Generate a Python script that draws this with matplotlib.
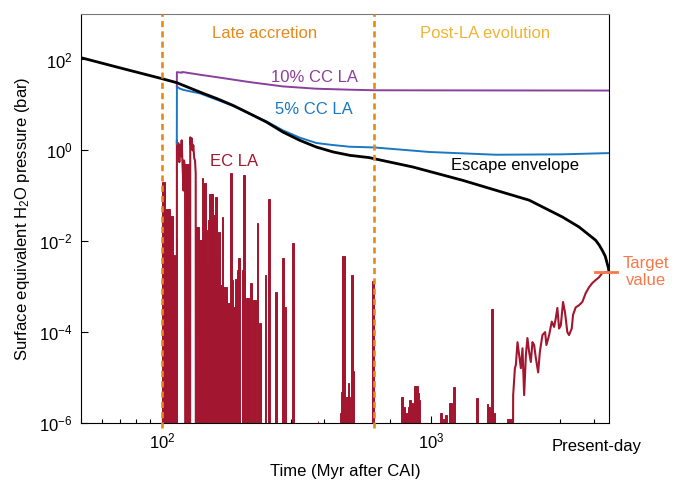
import numpy as np
import matplotlib
matplotlib.use("Agg")
import matplotlib.pyplot as plt
import matplotlib.transforms as mtransforms
from matplotlib.ticker import NullLocator, NullFormatter, FixedLocator

plt.rcParams['font.family'] = ['Liberation Sans', 'DejaVu Sans']
plt.rcParams['mathtext.fontset'] = 'custom'
plt.rcParams['mathtext.rm'] = 'Liberation Sans'
plt.rcParams['mathtext.it'] = 'Liberation Sans:italic'
plt.rcParams['mathtext.bf'] = 'Liberation Sans:bold'

# value used for "zero" pressure (sits below the axis)
FLOOR = 1e-9

# escape envelope (Myr, bar)
esc_t = [50.1, 70.7, 100, 113.4, 138.3, 160, 183.7, 211.8, 244.1, 281.1, 324.6,
         374.1, 431.9, 497.6, 588.5, 611, 853, 1306, 1737, 2307, 3064, 3533,
         4074, 4200, 4310, 4420, 4498, 4540, 4568]
esc_p = [109, 64, 37.7, 30.8, 19.1, 13.7, 9.7, 6.4, 4.19, 2.52, 1.66,
         1.18, 0.92, 0.776, 0.691, 0.657, 0.43, 0.219, 0.132, 0.080, 0.0342, 0.0206,
         0.0105, 0.0082, 0.0063, 0.0047, 0.0032, 0.0026, 0.0021]

# 5% CC late accretion
cc5_t = [113.4, 113.5, 116, 120, 125, 138.3, 183.7, 211.8, 244.1, 281.1, 324.6,
         374.1, 425, 497.6, 611, 983, 1737, 3064, 4568]
cc5_p = [1.4, 25.5, 23, 21.4, 20.3, 17.9, 9.5, 6.3, 4.34, 2.75, 1.90,
         1.45, 1.32, 1.2, 1.16, 0.92, 0.80, 0.817, 0.87]

# 10% CC late accretion
cc10_t = [113.4, 113.5, 117, 118.5, 119, 125, 140, 159.4, 211.8, 281.1, 374.1,
          497.6, 611, 1000, 2000, 4568]
cc10_p = [25.5, 52.6, 51.5, 51.0, 53.0, 50.6, 45.6, 40.8, 31.7, 25.5, 22.7,
          21.6, 21.0, 20.9, 20.8, 20.7]

# EC late accretion: dense spikes, given as (start, end, top)
ec_bar_start = [100.0, 102.6, 107.1, 109.5, 111.3, 112.4,
                121.9,
                133.5, 137.1, 140.3, 142.2, 143.1, 145.5, 146.4, 148.4, 149.3, 154.9,
                157.1, 159.4, 161.6, 164.0, 166.4, 168.7, 174.8, 178.6, 181.2, 183.7,
                186.4, 189.1, 191.7,
                198.8, 200.4, 205.7, 212.0, 218.1, 224.3, 229.5, 240.1, 247.8, 262.3,
                279.9, 285.7, 304.9,
                378.6, 456.3, 460.2, 466.9, 476.2, 483.1, 489.8, 494.0, 504.2, 511.1,
                601.5, 603.6,
                772.2, 782.9, 801.1, 817.0, 829.0, 841.1, 857.7, 865.1, 889.8, 902.8,
                1080, 1108, 1120, 1166, 1206,
                1464, 1603, 1626, 1664, 1697, 1912]
ec_bar_end = [102.6, 107.1, 109.5, 111.3, 112.4, 113.4,
              127.0,
              137.1, 140.3, 142.2, 143.1, 145.5, 146.4, 148.4, 149.3, 154.9, 157.1,
              159.4, 161.6, 164.0, 166.4, 168.7, 174.8, 178.6, 181.2, 183.7, 186.4,
              189.1, 191.7, 195.0,
              200.4, 203.5, 210.5, 216.4, 222.4, 227.4, 232.0, 243.8, 251.2, 266.0,
              283.0, 289.6, 308.3,
              380.8, 460.2, 466.9, 476.2, 483.1, 489.8, 494.0, 499.1, 511.1, 515.5,
              603.6, 614.0,
              782.9, 801.1, 817.0, 829.0, 841.1, 857.7, 865.1, 889.8, 902.8, 910.5,
              1096, 1120, 1143, 1189, 1224,
              1489, 1626, 1650, 1697, 1726, 1973]
ec_bar_top = [0.198, 0.05, 0.036, 0.005, 8.4e-4, 0.0117,
              0.5,
              0.0204, 0.0105, 0.242, 0.0105, 0.188, 0.0175, 0.0027, 0.029, 0.11, 0.037,
              0.093, 0.0038, 0.0159, 0.0011, 0.034, 9.7e-4, 4.3e-4, 0.31, 0.0014, 3.5e-4,
              0.0015, 0.0023, 0.0042,
              0.0023, 0.28, 5.6e-4, 1.2e-3, 5.0e-4, 0.025, 1.6e-4, 1.8e-3, 0.084, 7.6e-4,
              4.2e-3, 3.5e-4, 9.1e-3,
              1.1e-6, 1.7e-6, 4.8e-6, 0.0047, 1.7e-6, 3.7e-6, 7.4e-6, 3.7e-6, 0.0018, 1.4e-5,
              1.7e-5, 1.3e-3,
              3.7e-6, 2.3e-6, 1.7e-6, 2.3e-6, 3.2e-6, 2.7e-6, 2.3e-6, 6.5e-6, 4.6e-6, 3.2e-6,
              1.7e-6, 1.2e-6, 1.5e-6, 2.7e-6, 6.2e-6,
              3.5e-6, 2.6e-6, 2.3e-6, 3.2e-4, 1.7e-6, 1.2e-6]

# EC late accretion: line parts (early high humps + late rise)
ec_line_t = [113.4, 113.5, 114.1, 114.9, 115.9, 116.6, 117.6, 118.2, 119.1, 120.1,
             120.6, 121.7, 121.9,
             127.0, 127.2, 128.1, 128.9, 129.8, 130.6, 131.6, 132.5, 133.3, 133.5,
             2000, 2012, 2042, 2059, 2088, 2118, 2149, 2179, 2210, 2243,
             2273, 2307, 2340, 2373, 2407, 2442, 2491, 2527, 2584, 2644,
             2673, 2736, 2799, 2855, 2896, 2936, 2979, 3023, 3082, 3135,
             3197, 3244, 3320, 3357, 3435, 3533, 3634, 3741, 3848, 3958,
             4074, 4190, 4310, 4459, 4568]
ec_line_p = [FLOOR, 1.66, 1.0, 1.43, 0.55, 1.29, 0.74, 1.66, 0.47, 0.13,
             0.60, 0.40, FLOOR,
             FLOOR, 1.93, 1.22, 1.83, 1.0, 1.29, 0.67, 0.60, 0.31, FLOOR,
             FLOOR, 4.1e-6, 1.6e-5, 1.9e-5, 6.0e-5, 3.1e-5, 1.6e-5, 4.4e-5, 4.1e-6, 3.1e-5,
             7.4e-5, 3.6e-5, 2.2e-5, 6.0e-5, 5.2e-5, 2.7e-5, 1.3e-5, 3.6e-5, 8.6e-5, 1.0e-4,
             5.2e-5, 8.6e-5, 1.7e-4, 1.3e-4, 2.0e-4, 3.4e-4, 1.2e-4, 1.4e-4, 4.6e-4, 2.7e-4,
             1.0e-4, 8.6e-5, 1.2e-4, 2.4e-4, 3.5e-4, 3.9e-4, 4.6e-4, 7.2e-4, 9.7e-4, 1.2e-3,
             1.4e-3, 1.6e-3, 2.0e-3, 2.1e-3, 2.1e-3]

phase_bounds = [100, 610]
target_p = 2.1e-3
present_day_label_t = 4120

ec_color = '#a3162f'
blue = '#1a78c2'
purple = '#8b3f9c'
orange = '#e38a1b'
gold = '#f0b432'
coral = '#f5784a'

fig, ax = plt.subplots(figsize=(6.73, 4.8), dpi=100)
fig.subplots_adjust(left=0.1204, right=0.905, bottom=0.1188, top=0.9708)
ax.set_xscale('log')
ax.set_yscale('log')
ax.set_xlim(50, 4568)
ax.set_ylim(1e-6, 1e3)

starts = np.array(ec_bar_start)
ends = np.array(ec_bar_end)
tops = np.array(ec_bar_top)
ax.bar(starts, tops - FLOOR, width=ends - starts, bottom=FLOOR, align='edge',
       color=ec_color, edgecolor=ec_color, linewidth=0.7, zorder=2)
ax.plot(ec_line_t, ec_line_p, color=ec_color, lw=1.5, zorder=2)

ax.plot(cc5_t, cc5_p, color=blue, lw=1.4, zorder=3)
ax.plot(cc10_t, cc10_p, color=purple, lw=1.4, zorder=3)
ax.plot(esc_t, esc_p, color='black', lw=2.0, zorder=4)

for xb in phase_bounds:
    ax.axvline(xb, ymin=-0.013, ymax=1, color=orange, lw=1.9,
               ls=(0, (2.3, 1.6)), zorder=5, clip_on=False)

# target value marker
bt = mtransforms.blended_transform_factory(ax.transAxes, ax.transData)
ax.plot([0.9735, 1.015], [target_p, target_p], color=coral, lw=2,
        transform=bt, clip_on=False, zorder=6)
ax.text(6257, target_p, 'Target\nvalue', color=coral, fontsize=12,
        ha='center', va='center', linespacing=1.15, clip_on=False)

# labels
ax.text(240.7, 373, 'Late accretion', color=orange, fontsize=12, ha='center', va='center')
ax.text(1585, 373, 'Post-LA evolution', color=gold, fontsize=12, ha='center', va='center')
ax.text(368.7, 40.2, '10% CC LA', color=purple, fontsize=12, ha='center', va='center')
ax.text(366, 7.96, '5% CC LA', color=blue, fontsize=12, ha='center', va='center')
ax.text(184.8, 0.573, 'EC LA', color=ec_color, fontsize=12, ha='center', va='center')
ax.text(2047, 0.468, 'Escape envelope', color='black', fontsize=12, ha='center', va='center')

bx = mtransforms.blended_transform_factory(ax.transData, ax.transAxes)
ax.text(present_day_label_t, -0.0685, 'Present-day', fontsize=12, ha='center',
        va='baseline', transform=bx, clip_on=False)

ax.yaxis.set_major_locator(FixedLocator([1e-6, 1e-4, 1e-2, 1, 1e2]))
ax.yaxis.set_minor_locator(NullLocator())
ax.xaxis.set_minor_formatter(NullFormatter())
ax.tick_params(which='both', direction='in', top=False, right=False, width=0.8)
ax.tick_params(which='major', length=5, labelsize=12, pad=6)
ax.tick_params(which='minor', length=3)

for side in ['left', 'bottom', 'right']:
    ax.spines[side].set_linewidth(0.8)
    ax.spines[side].set_color('black')
ax.spines['top'].set_linewidth(0.8)
ax.spines['top'].set_color('#7a7a7a')

ax.set_xlabel('Time (Myr after CAI)', fontsize=12, labelpad=9)
ax.set_ylabel('Surface equivalent H$_2$O pressure (bar)', fontsize=12, labelpad=5)

fig.savefig('out.png', dpi=100)
